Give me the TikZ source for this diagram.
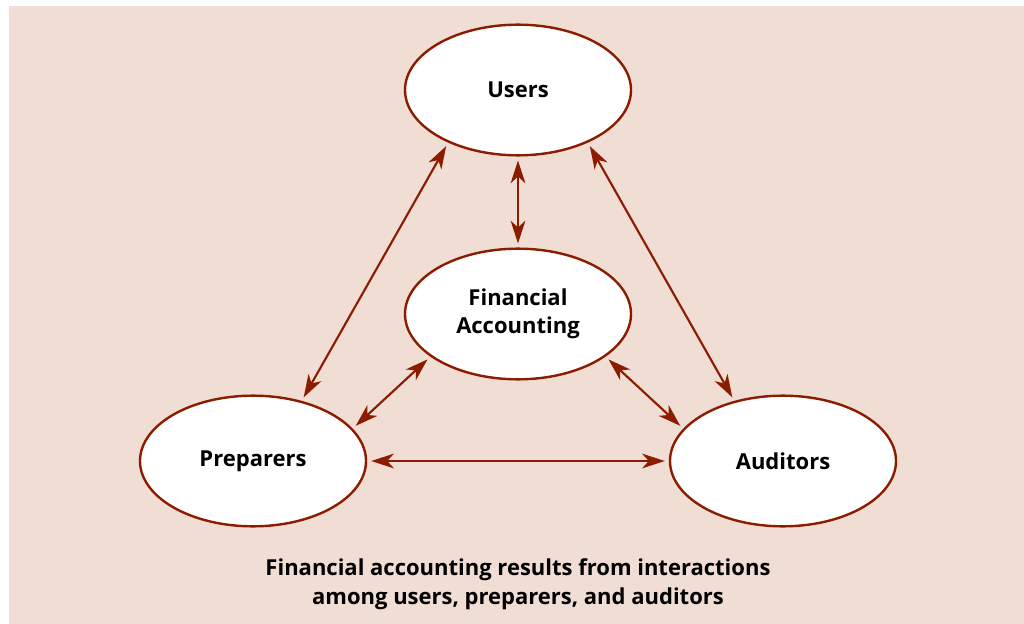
\documentclass[tikz,border=0pt]{standalone}
\usepackage{fontspec}
\setmainfont{Open Sans}
\usepackage{xcolor}
\usepackage{tikz}
\usetikzlibrary{arrows.meta,shapes.geometric}

\definecolor{panelbg}{HTML}{F0DDD4}
\definecolor{rust}{HTML}{8C1C00}

\tikzset{
    party/.style={ellipse, draw=rust, line width=1.8pt, fill=white,
        minimum width=169.5pt, minimum height=98pt, inner sep=0pt,
        align=center, font=\fontsize{16.5}{21}\selectfont\bfseries},
    link/.style={<->, >={Stealth[length=17pt,width=11pt,inset=5pt]},
        draw=rust, line width=1.6pt, shorten <=3pt, shorten >=3pt}
}

\begin{document}
\begin{tikzpicture}[x=0.75pt, y=-0.75pt]
    % Panel
    \useasboundingbox (0,0) rectangle (1024,624);
    \fill[panelbg] (9,6) rectangle (1024,624);

    % The four parties
    \node[party] (users) at (518,90)  {Users};
    \node[party] (fin)   at (518,314) {Financial\\Accounting};
    \node[party] (prep)  at (253,461) {Preparers};
    \node[party] (aud)   at (783,461) {Auditors};

    % Interactions
    \draw[link] (users.south) -- (fin.north);
    \draw[link] (users.217) -- (prep.51);
    \draw[link] (users.323) -- (aud.129);
    \draw[link] (fin.206) -- (prep.18);
    \draw[link] (fin.334) -- (aud.162);
    \draw[link] (prep.east) -- (aud.west);

    % Caption
    \node[align=center, font=\fontsize{16.5}{22}\selectfont\bfseries] (caption) at (518,584)
        {Financial accounting results from interactions\\among users, preparers, and auditors};
\end{tikzpicture}
\end{document}
